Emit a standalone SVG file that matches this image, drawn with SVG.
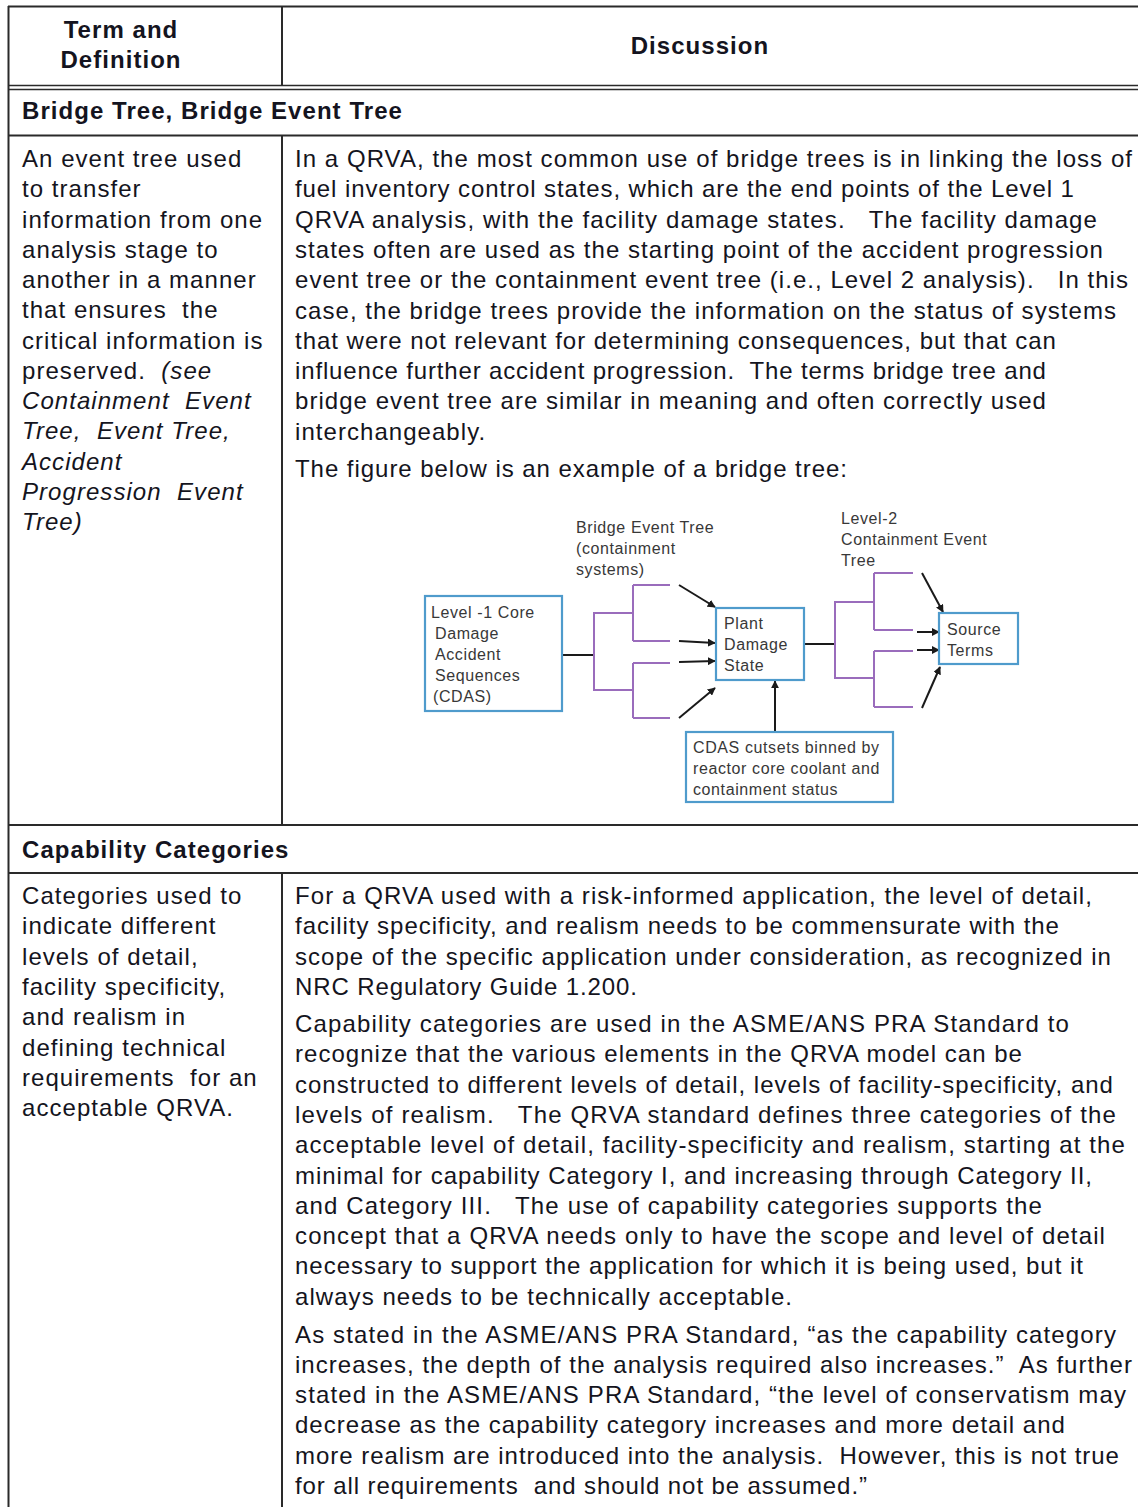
<svg xmlns="http://www.w3.org/2000/svg" width="1138" height="1507" viewBox="0 0 1138 1507">
  <style>
    text { font-family: "Liberation Sans", Arial, sans-serif; fill: #141420; white-space: pre; }
    .b { font-size: 24px; letter-spacing: 1.05px; }
    .h { font-size: 24px; font-weight: bold; letter-spacing: 1.05px; }
    .i { font-style: italic; }
    .d { font-size: 16px; letter-spacing: 0.6px; fill: #383838; }
    .rule { stroke: #2a2a2a; stroke-width: 2; fill: none; }
    .rule2 { stroke: #2a2a2a; stroke-width: 1.6; fill: none; }
    .box { fill: #ffffff; stroke: #4f9bcc; stroke-width: 2.2; }
    .tree { stroke: #9a6cbc; stroke-width: 2; fill: none; }
    .link { stroke: #1a1a1a; stroke-width: 2; fill: none; }
    .arr { stroke: #1a1a1a; stroke-width: 2; fill: none; marker-end: url(#ah); }
  </style>
  <defs>
    <marker id="ah" viewBox="0 0 10 10" refX="9" refY="5" markerWidth="8" markerHeight="8" markerUnits="userSpaceOnUse" orient="auto">
      <path d="M0,0 L10,5 L0,10 z" fill="#1a1a1a"/>
    </marker>
  </defs>
  <rect width="1138" height="1507" fill="#ffffff"/>

  <!-- table rules -->
  <g id="table-grid">
    <line class="rule" x1="8" y1="6.5" x2="1138" y2="6.5"/>
    <line class="rule" x1="8.5" y1="6" x2="8.5" y2="1507"/>
    <line class="rule2" x1="8" y1="85.5" x2="1138" y2="85.5"/>
    <line class="rule2" x1="8" y1="89.5" x2="1138" y2="89.5"/>
    <line class="rule" x1="8" y1="135.5" x2="1138" y2="135.5"/>
    <line class="rule" x1="8" y1="825" x2="1138" y2="825"/>
    <line class="rule" x1="8" y1="873" x2="1138" y2="873"/>
    <line class="rule" x1="282" y1="6" x2="282" y2="85"/>
    <line class="rule" x1="282" y1="135" x2="282" y2="825"/>
    <line class="rule" x1="282" y1="873" x2="282" y2="1507"/>
  </g>

  <!-- header row -->
  <g id="header">
    <text class="h" x="121" y="38" text-anchor="middle">Term and</text>
    <text class="h" x="121" y="68" text-anchor="middle">Definition</text>
    <text class="h" x="700" y="54" text-anchor="middle">Discussion</text>
  </g>

  <!-- Bridge Tree entry -->
  <g id="bridge-tree-title">
    <text class="h" x="22" y="119">Bridge Tree, Bridge Event Tree</text>
  </g>
  <g id="bridge-tree-definition">
    <text class="b" x="22" y="167">An event tree used</text>
    <text class="b" x="22" y="197.25">to transfer</text>
    <text class="b" x="22" y="227.5">information from one</text>
    <text class="b" x="22" y="257.75">analysis stage to</text>
    <text class="b" x="22" y="288">another in a manner</text>
    <text class="b" x="22" y="318.25">that ensures  the</text>
    <text class="b" x="22" y="348.5">critical information is</text>
    <text class="b" x="22" y="378.75">preserved.  <tspan class="i">(see</tspan></text>
    <text class="b i" x="22" y="409">Containment  Event</text>
    <text class="b i" x="22" y="439.25">Tree,  Event Tree,</text>
    <text class="b i" x="22" y="469.5">Accident</text>
    <text class="b i" x="22" y="499.75">Progression  Event</text>
    <text class="b i" x="22" y="530">Tree)</text>
  </g>
  <g id="bridge-tree-discussion">
    <text class="b" x="295" y="167" textLength="838">In a QRVA, the most common use of bridge trees is in linking the loss of</text>
    <text class="b" x="295" y="197.3" textLength="780">fuel inventory control states, which are the end points of the Level 1</text>
    <text class="b" x="295" y="227.6" textLength="803">QRVA analysis, with the facility damage states.   The facility damage</text>
    <text class="b" x="295" y="257.9" textLength="809">states often are used as the starting point of the accident progression</text>
    <text class="b" x="295" y="288.2" textLength="834">event tree or the containment event tree (i.e., Level 2 analysis).   In this</text>
    <text class="b" x="295" y="318.5" textLength="822">case, the bridge trees provide the information on the status of systems</text>
    <text class="b" x="295" y="348.8" textLength="762">that were not relevant for determining consequences, but that can</text>
    <text class="b" x="295" y="379.1" textLength="752">influence further accident progression.  The terms bridge tree and</text>
    <text class="b" x="295" y="409.4" textLength="752">bridge event tree are similar in meaning and often correctly used</text>
    <text class="b" x="295" y="439.7">interchangeably.</text>
    <text class="b" x="295" y="477" textLength="553">The figure below is an example of a bridge tree:</text>
  </g>

  <!-- bridge tree figure -->
  <g id="figure-labels">
    <text class="d" x="576" y="533">Bridge Event Tree</text>
    <text class="d" x="576" y="554">(containment</text>
    <text class="d" x="576" y="575">systems)</text>
    <text class="d" x="841" y="524">Level-2</text>
    <text class="d" x="841" y="545">Containment Event</text>
    <text class="d" x="841" y="566">Tree</text>
  </g>

  <g id="connectors">
    <!-- level-1 box to bridge tree -->
    <line class="link" x1="562" y1="655" x2="594" y2="655"/>
    <!-- bridge event tree branches -->
    <path class="tree" d="M594,613 V690 M593,613 H633 M593,690 H633 M633,585 V641 M633,663 V718 M633,585 H670 M633,641 H670 M633,663 H670 M633,718 H670"/>
    <line class="arr" x1="679" y1="585" x2="715" y2="607"/>
    <line class="arr" x1="679" y1="641" x2="715" y2="643"/>
    <line class="arr" x1="679" y1="662" x2="715" y2="661"/>
    <line class="arr" x1="679" y1="718" x2="715" y2="688"/>
    <!-- plant damage state to containment event tree -->
    <line class="link" x1="804" y1="644" x2="835" y2="644"/>
    <path class="tree" d="M835,602 V678 M834,602 H874 M834,678 H874 M874,573 V630 M874,651 V707 M874,573 H913 M874,630 H913 M874,651 H913 M874,707 H913"/>
    <line class="arr" x1="922" y1="573" x2="943" y2="612"/>
    <line class="arr" x1="917" y1="632" x2="939" y2="632"/>
    <line class="arr" x1="917" y1="650" x2="939" y2="650"/>
    <line class="arr" x1="922" y1="708" x2="940" y2="667"/>
    <!-- binned cutsets feed plant damage state -->
    <line class="arr" x1="775" y1="732" x2="775" y2="681"/>
  </g>

  <g id="node-cdas">
    <rect class="box" x="425" y="596" width="137" height="115"/>
    <text class="d" x="431" y="618">Level -1 Core</text>
    <text class="d" x="435" y="639">Damage</text>
    <text class="d" x="435" y="660">Accident</text>
    <text class="d" x="435" y="681">Sequences</text>
    <text class="d" x="433" y="702">(CDAS)</text>
  </g>
  <g id="node-plant-damage-state">
    <rect class="box" x="716" y="608" width="88" height="72"/>
    <text class="d" x="724" y="629">Plant</text>
    <text class="d" x="724" y="650">Damage</text>
    <text class="d" x="724" y="671">State</text>
  </g>
  <g id="node-source-terms">
    <rect class="box" x="939" y="613" width="79" height="51"/>
    <text class="d" x="947" y="635">Source</text>
    <text class="d" x="947" y="656">Terms</text>
  </g>
  <g id="node-cutsets">
    <rect class="box" x="686" y="732" width="207" height="70"/>
    <text class="d" x="693" y="753">CDAS cutsets binned by</text>
    <text class="d" x="693" y="774">reactor core coolant and</text>
    <text class="d" x="693" y="795">containment status</text>
  </g>

  <!-- Capability Categories entry -->
  <g id="capability-title">
    <text class="h" x="22" y="858">Capability Categories</text>
  </g>
  <g id="capability-definition">
    <text class="b" x="22" y="904">Categories used to</text>
    <text class="b" x="22" y="934.3">indicate different</text>
    <text class="b" x="22" y="964.6">levels of detail,</text>
    <text class="b" x="22" y="994.9">facility specificity,</text>
    <text class="b" x="22" y="1025.2">and realism in</text>
    <text class="b" x="22" y="1055.5">defining technical</text>
    <text class="b" x="22" y="1085.8">requirements  for an</text>
    <text class="b" x="22" y="1116.1">acceptable QRVA.</text>
  </g>
  <g id="capability-discussion">
    <text class="b" x="295" y="904" textLength="798">For a QRVA used with a risk-informed application, the level of detail,</text>
    <text class="b" x="295" y="934.3" textLength="765">facility specificity, and realism needs to be commensurate with the</text>
    <text class="b" x="295" y="964.6" textLength="817">scope of the specific application under consideration, as recognized in</text>
    <text class="b" x="295" y="994.9" textLength="343">NRC Regulatory Guide 1.200.</text>
    <text class="b" x="295" y="1032" textLength="775">Capability categories are used in the ASME/ANS PRA Standard to</text>
    <text class="b" x="295" y="1062.3" textLength="728">recognize that the various elements in the QRVA model can be</text>
    <text class="b" x="295" y="1092.6" textLength="819">constructed to different levels of detail, levels of facility-specificity, and</text>
    <text class="b" x="295" y="1122.9" textLength="822">levels of realism.   The QRVA standard defines three categories of the</text>
    <text class="b" x="295" y="1153.2" textLength="831">acceptable level of detail, facility-specificity and realism, starting at the</text>
    <text class="b" x="295" y="1183.5" textLength="798">minimal for capability Category I, and increasing through Category II,</text>
    <text class="b" x="295" y="1213.8" textLength="748">and Category III.   The use of capability categories supports the</text>
    <text class="b" x="295" y="1244.1" textLength="811">concept that a QRVA needs only to have the scope and level of detail</text>
    <text class="b" x="295" y="1274.4" textLength="789">necessary to support the application for which it is being used, but it</text>
    <text class="b" x="295" y="1304.7" textLength="498">always needs to be technically acceptable.</text>
    <text class="b" x="295" y="1342.5" textLength="822">As stated in the ASME/ANS PRA Standard, “as the capability category</text>
    <text class="b" x="295" y="1372.8" textLength="838">increases, the depth of the analysis required also increases.”  As further</text>
    <text class="b" x="295" y="1403.1" textLength="832">stated in the ASME/ANS PRA Standard, “the level of conservatism may</text>
    <text class="b" x="295" y="1433.4" textLength="771">decrease as the capability category increases and more detail and</text>
    <text class="b" x="295" y="1463.7" textLength="825">more realism are introduced into the analysis.  However, this is not true</text>
    <text class="b" x="295" y="1494" textLength="573">for all requirements  and should not be assumed.”</text>
  </g>
</svg>
